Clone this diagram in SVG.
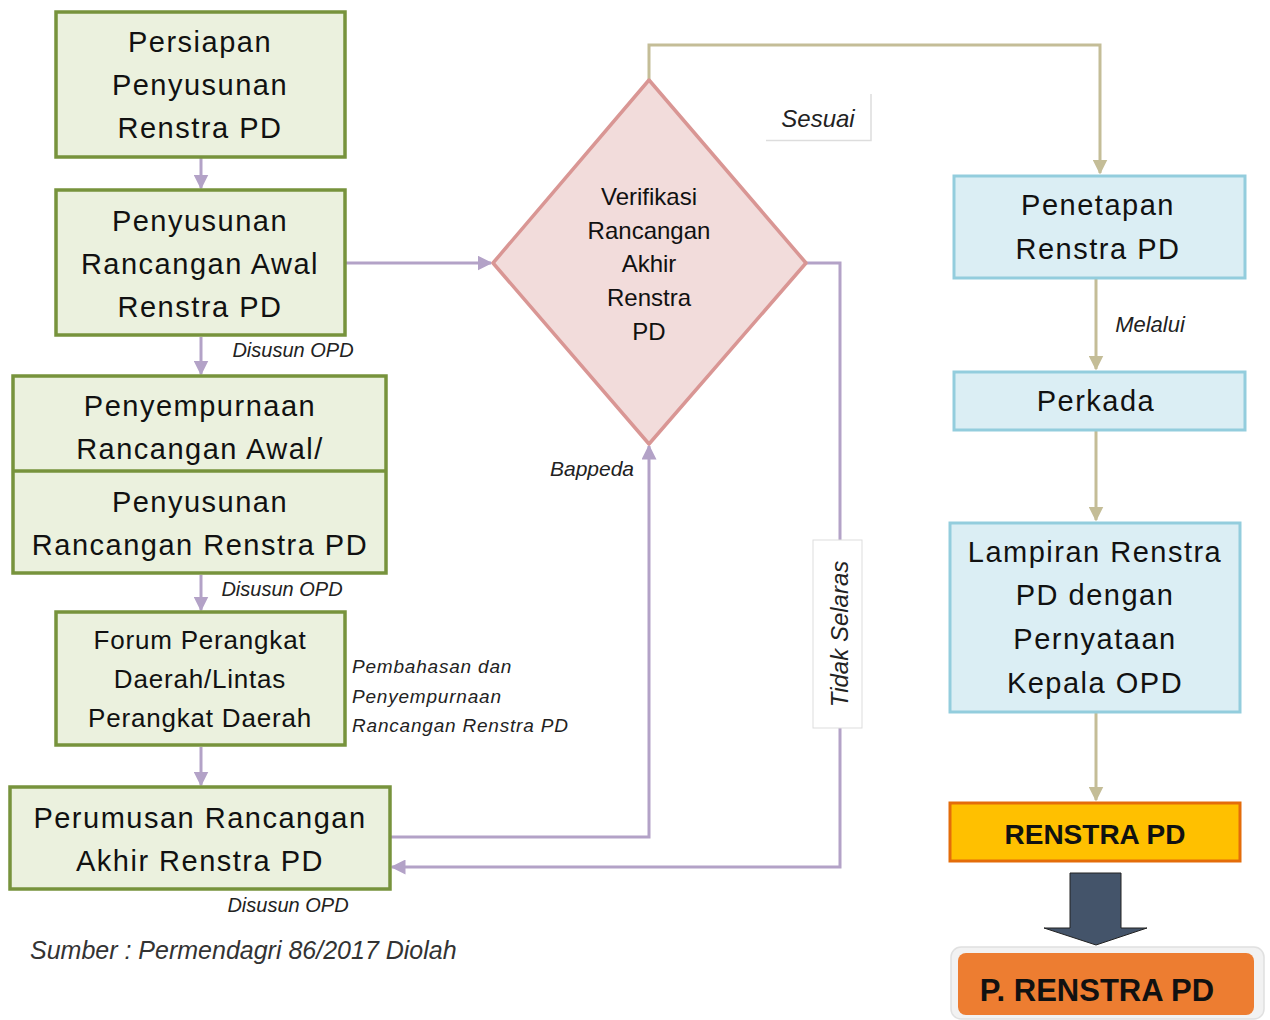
<svg xmlns="http://www.w3.org/2000/svg" width="1270" height="1020" viewBox="0 0 1270 1020">
<style>
.g{fill:#EBF1DE;stroke:#77933C;stroke-width:3.5}
.b{fill:#DBEEF4;stroke:#93CDDD;stroke-width:3}
.t{font-family:"Liberation Sans",Arial,sans-serif;font-size:29px;fill:#111;text-anchor:middle;dominant-baseline:central;letter-spacing:1.5px}
.t4{font-family:"Liberation Sans",Arial,sans-serif;font-size:26px;fill:#111;text-anchor:middle;dominant-baseline:central;letter-spacing:0.8px}
.td{font-family:"Liberation Sans",Arial,sans-serif;font-size:24px;fill:#111;text-anchor:middle;dominant-baseline:central}
.lb{font-family:"Liberation Sans",Arial,sans-serif;font-size:19px;font-style:italic;fill:#222;dominant-baseline:central}
.bold{font-family:"Liberation Sans",Arial,sans-serif;font-size:28px;font-weight:bold;fill:#111;text-anchor:middle;dominant-baseline:central}
.p{fill:none;stroke:#B3A2C7;stroke-width:3}
.k{fill:none;stroke:#C4BD97;stroke-width:3}
</style>
<defs>
<marker id="ap" viewBox="0 0 10 10" refX="9" refY="5" markerWidth="5" markerHeight="5" orient="auto" markerUnits="strokeWidth"><path d="M0,0 L10,5 L0,10 z" fill="#B3A2C7"/></marker>
<marker id="ak" viewBox="0 0 10 10" refX="9" refY="5" markerWidth="5" markerHeight="5" orient="auto" markerUnits="strokeWidth"><path d="M0,0 L10,5 L0,10 z" fill="#C4BD97"/></marker>
</defs>
<rect width="1270" height="1020" fill="#fff"/>
<g id="connectors">
<path class="p" d="M201,158 V188" marker-end="url(#ap)"/>
<path class="p" d="M346,263 H491" marker-end="url(#ap)"/>
<path class="p" d="M201,337 V374" marker-end="url(#ap)"/>
<path class="p" d="M201,575 V610" marker-end="url(#ap)"/>
<path class="p" d="M201,747 V785" marker-end="url(#ap)"/>
<path class="p" d="M391,837 H649 V446" marker-end="url(#ap)"/>
<path class="p" d="M806,263 H840 V867 H392" marker-end="url(#ap)"/>
<path class="k" d="M649,80 V45 H1100 V173" marker-end="url(#ak)"/>
<path class="k" d="M1096,279 V369" marker-end="url(#ak)"/>
<path class="k" d="M1096,431 V520" marker-end="url(#ak)"/>
<path class="k" d="M1096,713 V800" marker-end="url(#ak)"/>
<text class="lb" x="293" y="350" text-anchor="middle" style="font-size:20px">Disusun OPD</text>
<text class="lb" x="282" y="589" text-anchor="middle" style="font-size:20px">Disusun OPD</text>
<text class="lb" x="288" y="905" text-anchor="middle" style="font-size:20px">Disusun OPD</text>
<text class="lb" x="352" y="666" style="letter-spacing:0.8px">Pembahasan dan</text>
<text class="lb" x="352" y="696" style="letter-spacing:0.8px">Penyempurnaan</text>
<text class="lb" x="352" y="725" style="letter-spacing:0.8px">Rancangan Renstra PD</text>
<text class="lb" x="592" y="468" text-anchor="middle" style="font-size:21px">Bappeda</text>
<text class="lb" x="1150" y="324" text-anchor="middle" style="font-size:22px">Melalui</text>
<g id="lbl-sesuai">
<rect x="766" y="94" width="105" height="47" fill="#fff"/>
<path d="M766,140.5 H871 V94" fill="none" stroke="#ddd" stroke-width="1.5"/>
<text class="lb" x="818" y="118" text-anchor="middle" style="font-size:24px">Sesuai</text>
</g>
<g id="lbl-tidak">
<rect x="813" y="540" width="49" height="188" fill="#fff" stroke="#ddd" stroke-width="1"/>
<text class="lb" transform="translate(839,634) rotate(-90)" text-anchor="middle" style="font-size:24px">Tidak Selaras</text>
</g>
</g>
<g id="n1"><rect class="g" x="56" y="12" width="289" height="145"/>
<text class="t" x="200" y="42">Persiapan</text><text class="t" x="200" y="85">Penyusunan</text><text class="t" x="200" y="128">Renstra PD</text></g>
<g id="n2"><rect class="g" x="56" y="190" width="289" height="145"/>
<text class="t" x="200" y="221">Penyusunan</text><text class="t" x="200" y="264">Rancangan Awal</text><text class="t" x="200" y="307">Renstra PD</text></g>
<g id="n3"><rect class="g" x="13" y="376" width="373" height="197"/>
<line x1="13" y1="471" x2="386" y2="471" stroke="#77933C" stroke-width="3.5"/>
<text class="t" x="200" y="406">Penyempurnaan</text><text class="t" x="200" y="449">Rancangan Awal/</text>
<text class="t" x="200" y="502">Penyusunan</text><text class="t" x="200" y="545">Rancangan Renstra PD</text></g>
<g id="n4"><rect class="g" x="56" y="612" width="289" height="133"/>
<text class="t4" x="200" y="640">Forum Perangkat</text><text class="t4" x="200" y="679">Daerah/Lintas</text><text class="t4" x="200" y="718">Perangkat Daerah</text></g>
<g id="n5"><rect class="g" x="10" y="787" width="380" height="102"/>
<text class="t" x="200" y="818">Perumusan Rancangan</text><text class="t" x="200" y="861">Akhir Renstra PD</text></g>
<g id="n6"><path d="M649,80 L806,263 L649,444 L493,263 Z" fill="#F2DCDB" stroke="#D99694" stroke-width="3.5" stroke-linejoin="round"/>
<text class="td" x="649" y="196">Verifikasi</text><text class="td" x="649" y="230">Rancangan</text><text class="td" x="649" y="263">Akhir</text><text class="td" x="649" y="297">Renstra</text><text class="td" x="649" y="331">PD</text></g>
<g id="n7"><rect class="b" x="954" y="176" width="291" height="102"/>
<text class="t" x="1098" y="205">Penetapan</text><text class="t" x="1098" y="249">Renstra PD</text></g>
<g id="n8"><rect class="b" x="954" y="372" width="291" height="58"/>
<text class="t" x="1096" y="401">Perkada</text></g>
<g id="n9"><rect class="b" x="950" y="523" width="290" height="189"/>
<text class="t" x="1095" y="552">Lampiran Renstra</text><text class="t" x="1095" y="595">PD dengan</text><text class="t" x="1095" y="639">Pernyataan</text><text class="t" x="1095" y="683">Kepala OPD</text></g>
<g id="n10"><rect x="950" y="803" width="290" height="58" fill="#FFC000" stroke="#E46C0A" stroke-width="3"/>
<text class="bold" x="1095" y="834">RENSTRA PD</text></g>
<g id="n11"><path d="M1070,873 H1121 V928 H1147 L1096,945 L1044,928 H1070 Z" fill="#44546A" stroke="#222" stroke-width="1"/></g>
<g id="n12"><rect x="951" y="947" width="313" height="72" rx="10" fill="#f2f2f2" stroke="#e0e0e0" stroke-width="1.5"/>
<rect x="958" y="953" width="296" height="62" rx="8" fill="#ED7D31"/>
<text class="bold" x="1097" y="990" style="font-size:31px">P. RENSTRA PD</text></g>
<text class="lb" x="30" y="950" style="font-size:25px;fill:#333">Sumber : Permendagri 86/2017 Diolah</text>
</svg>
